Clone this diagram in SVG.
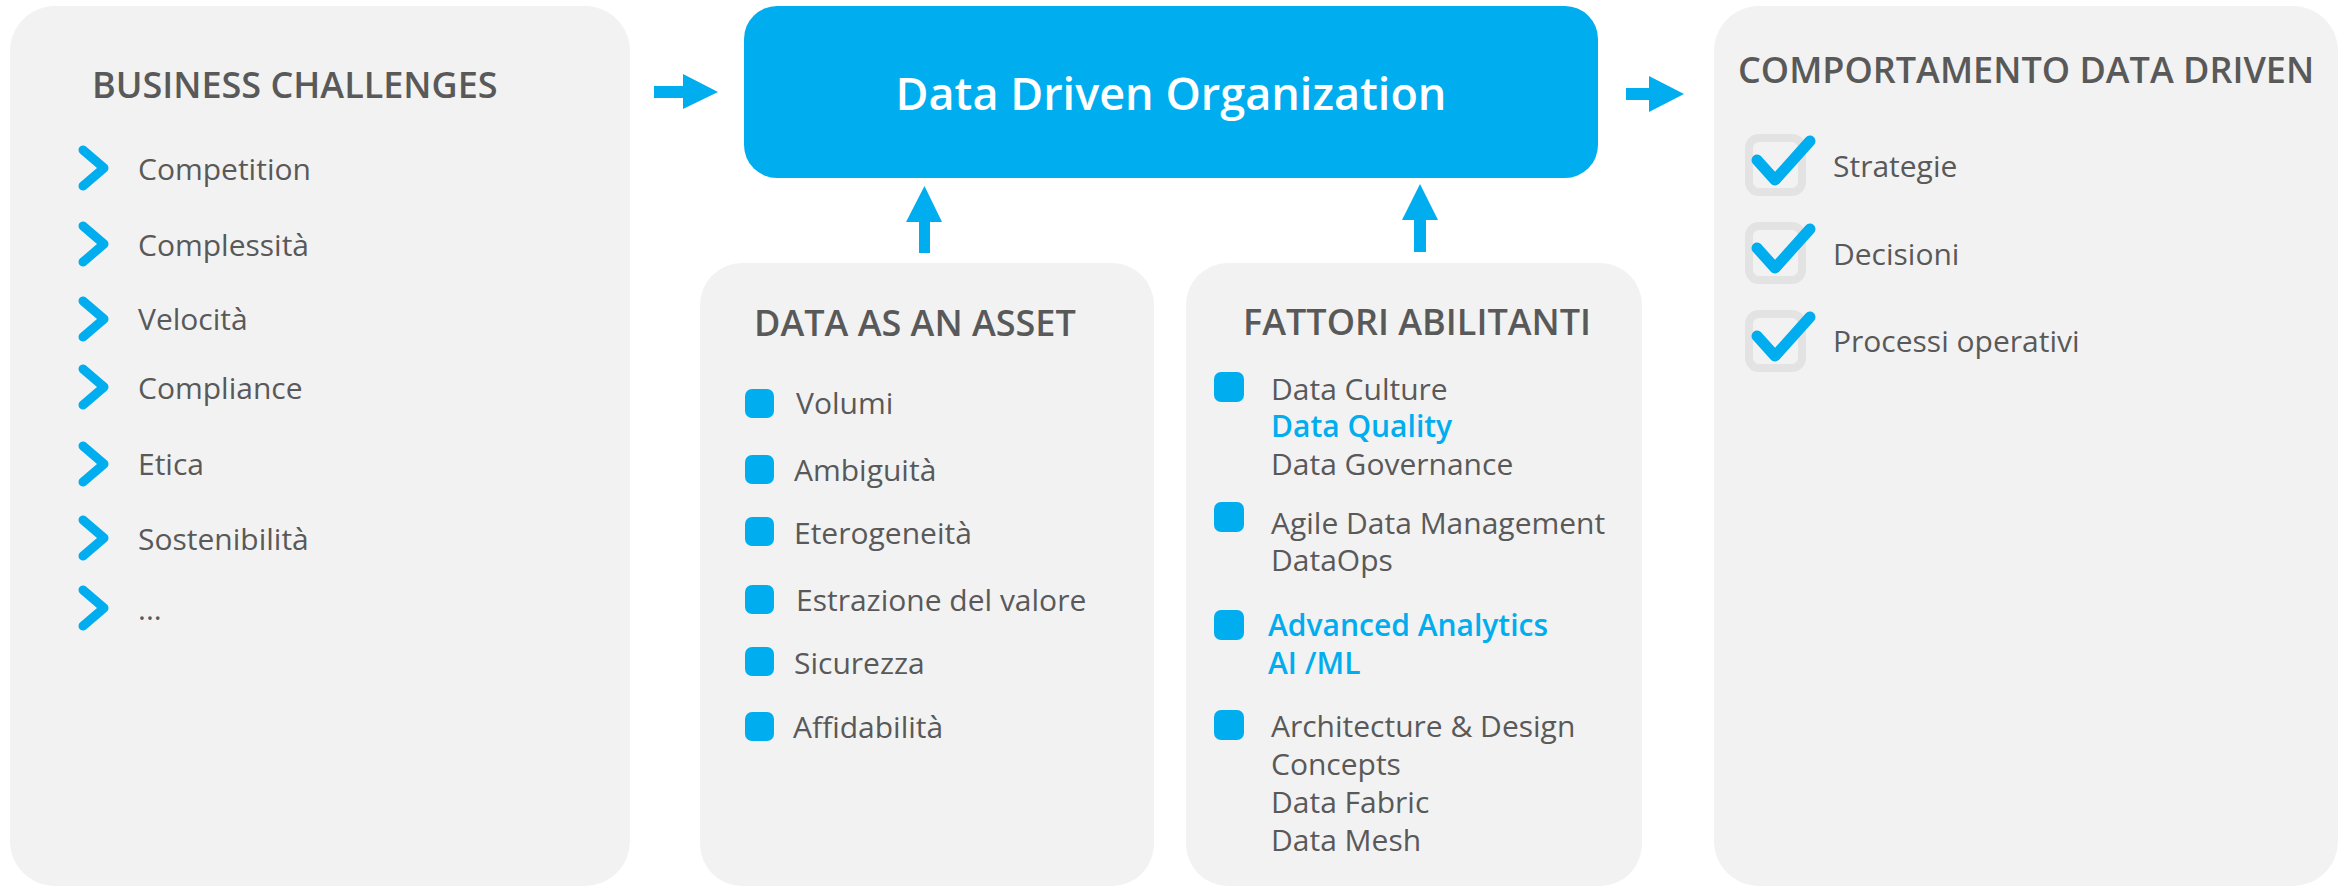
<svg xmlns="http://www.w3.org/2000/svg" width="2351" height="888" viewBox="0 0 2351 888">
<style>
.panel{fill:#f2f2f2}
.title{font-family:"Open Sans","Noto Sans",sans-serif;font-weight:600;font-size:36px;fill:#595959}
.txt{font-family:"Open Sans","Noto Sans",sans-serif;font-size:30px;fill:#595959}
.hl{font-family:"Open Sans","Noto Sans",sans-serif;font-size:30px;font-weight:600;fill:#00adef}
.chev{fill:none;stroke:#00adef;stroke-width:9;stroke-linecap:round;stroke-linejoin:round}
.bul{fill:#00adef}
.cbox{fill:none;stroke:#e3e3e3;stroke-width:8}
.chk{fill:none;stroke:#00adef;stroke-width:11;stroke-linecap:round;stroke-linejoin:round}
.arr{fill:#00adef}
</style>
<rect width="2351" height="888" fill="#ffffff"/>

<g id="business-challenges">
<rect class="panel" x="10" y="6" width="620" height="880" rx="45"/>
<text class="title" x="92" y="98">BUSINESS CHALLENGES</text>
<polyline class="chev" points="83,150 104,168 83,186"/>
<text class="txt" x="138" y="180">Competition</text>
<polyline class="chev" points="83,226 104,244 83,262"/>
<text class="txt" x="138" y="256">Complessità</text>
<polyline class="chev" points="83,301 104,319 83,337"/>
<text class="txt" x="138" y="330">Velocità</text>
<polyline class="chev" points="83,369 104,387 83,405"/>
<text class="txt" x="138" y="399">Compliance</text>
<polyline class="chev" points="83,446 104,464 83,482"/>
<text class="txt" x="138" y="475">Etica</text>
<polyline class="chev" points="83,520 104,538 83,556"/>
<text class="txt" x="138" y="550">Sostenibilità</text>
<polyline class="chev" points="83,590 104,608 83,626"/>
<text class="txt" x="138" y="620">...</text>
</g>

<g id="data-driven-organization">
<rect x="744" y="6" width="854" height="172" rx="33" fill="#00adef"/>
<text x="1171" y="110" text-anchor="middle" font-family="'Open Sans','Noto Sans',sans-serif" font-weight="600" font-size="45" fill="#ffffff">Data Driven Organization</text>
</g>

<g id="data-as-an-asset">
<rect class="panel" x="700" y="263" width="454" height="623" rx="42"/>
<text class="title" x="754" y="336">DATA AS AN ASSET</text>
<rect class="bul" x="745" y="389" width="29" height="29" rx="7"/>
<text class="txt" x="796" y="414">Volumi</text>
<rect class="bul" x="745" y="455" width="29" height="29" rx="7"/>
<text class="txt" x="794" y="481">Ambiguità</text>
<rect class="bul" x="745" y="517" width="29" height="29" rx="7"/>
<text class="txt" x="794" y="544">Eterogeneità</text>
<rect class="bul" x="745" y="585" width="29" height="29" rx="7"/>
<text class="txt" x="796" y="611">Estrazione del valore</text>
<rect class="bul" x="745" y="647" width="29" height="29" rx="7"/>
<text class="txt" x="794" y="674">Sicurezza</text>
<rect class="bul" x="745" y="712" width="29" height="29" rx="7"/>
<text class="txt" x="793" y="738">Affidabilità</text>
</g>

<g id="fattori-abilitanti">
<rect class="panel" x="1186" y="263" width="456" height="623" rx="42"/>
<text class="title" x="1243" y="335">FATTORI ABILITANTI</text>
<rect class="bul" x="1214" y="372" width="30" height="30" rx="7"/>
<text class="txt" x="1271" y="400">Data Culture</text>
<text class="hl" x="1271" y="437">Data Quality</text>
<text class="txt" x="1271" y="475">Data Governance</text>
<rect class="bul" x="1214" y="502" width="30" height="30" rx="7"/>
<text class="txt" x="1271" y="534">Agile Data Management</text>
<text class="txt" x="1271" y="571">DataOps</text>
<rect class="bul" x="1214" y="610" width="30" height="30" rx="7"/>
<text class="hl" x="1268" y="636">Advanced Analytics</text>
<text class="hl" x="1268" y="674">AI /ML</text>
<rect class="bul" x="1214" y="710" width="30" height="30" rx="7"/>
<text class="txt" x="1271" y="737">Architecture &amp; Design</text>
<text class="txt" x="1271" y="775">Concepts</text>
<text class="txt" x="1271" y="813">Data Fabric</text>
<text class="txt" x="1271" y="851">Data Mesh</text>
</g>

<g id="comportamento-data-driven">
<rect class="panel" x="1714" y="6" width="624" height="880" rx="45"/>
<text class="title" x="1738" y="83">COMPORTAMENTO DATA DRIVEN</text>
<rect class="cbox" x="1749" y="138" width="53" height="54" rx="10"/>
<polyline class="chk" points="1757,160 1775,180 1810,141"/>
<text class="txt" x="1833" y="177">Strategie</text>
<rect class="cbox" x="1749" y="226" width="53" height="54" rx="10"/>
<polyline class="chk" points="1757,248 1775,268 1810,229"/>
<text class="txt" x="1833" y="265">Decisioni</text>
<rect class="cbox" x="1749" y="314" width="53" height="54" rx="10"/>
<polyline class="chk" points="1757,336 1775,356 1810,317"/>
<text class="txt" x="1833" y="352">Processi operativi</text>
</g>

<g id="connectors">
<polygon class="arr" points="654,86 683,86 683,74 718,92 683,109 683,98 654,98"/>
<polygon class="arr" points="1626,88 1649,88 1649,76 1684,94 1649,112 1649,100 1626,100"/>
<polygon class="arr" points="919,253 919,222 906,222 924.5,186 942,222 930,222 930,253"/>
<polygon class="arr" points="1414,252 1414,220 1402,220 1420,184 1438,220 1426,220 1426,252"/>
</g>
</svg>
